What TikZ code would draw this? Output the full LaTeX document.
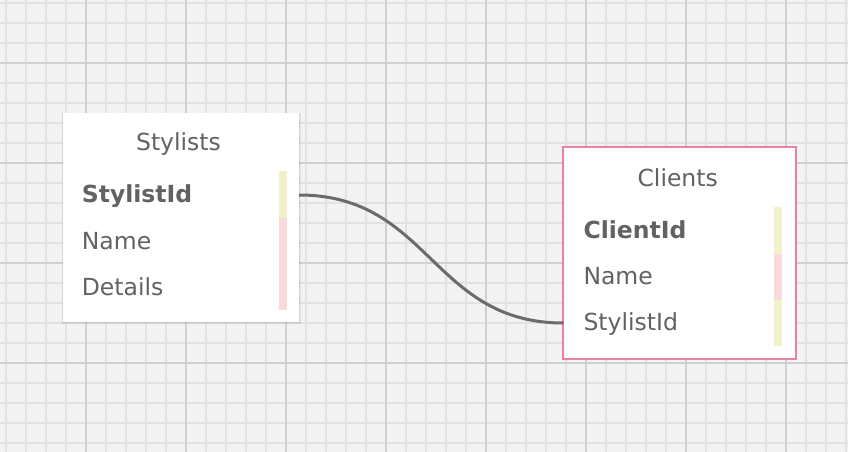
\documentclass[tikz,border=0pt]{standalone}
\usepackage{fontspec}
\setmainfont{DejaVu Sans}
\begin{document}
\begin{tikzpicture}[x=1pt,y=-1pt,
  txt/.style={text=txtgray,font=\fontsize{23.5}{27}\selectfont,inner sep=0pt,anchor=base west},
  bold/.style={font=\fontsize{23.5}{27}\selectfont\bfseries},
  ttl/.style={text=txtgray,font=\fontsize{23.5}{27}\selectfont,inner sep=0pt,anchor=base},
  tbl/.style={draw=none,fill=white,minimum width=#1,inner sep=0pt,outer sep=0pt},
]
\definecolor{bg}{HTML}{F3F3F3}
\definecolor{minorc}{HTML}{E2E2E2}
\definecolor{majorc}{HTML}{D0D0D0}
\definecolor{txtgray}{HTML}{626262}
\definecolor{keyy}{HTML}{F2F2C9}
\definecolor{keyp}{HTML}{F8DADA}
\definecolor{pinkb}{HTML}{E8829F}
\definecolor{linkc}{HTML}{6B6B6B}
\useasboundingbox (0,0) rectangle (848,452);
\fill[bg] (0,0) rectangle (848,452);
% minor grid
\foreach \x in {6,26,...,846} \draw[minorc,line width=1.3pt] (\x,0) -- (\x,452);
\foreach \y in {3,23,...,451} \draw[minorc,line width=1.3pt] (0,\y) -- (848,\y);
% major grid
\foreach \x in {86,186,...,846} \draw[majorc,line width=1.3pt] (\x,0) -- (\x,452);
\foreach \y in {63,163,263,363} \draw[majorc,line width=1.3pt] (0,\y) -- (848,\y);

% Stylists table
\fill[black,opacity=0.06] (62,113) rectangle (301,324);
\fill[black,opacity=0.06] (62,113) rectangle (300,323);
\node[tbl=236.3pt,minimum height=209pt] (stylists) at (180.85,217.2) {};
\node[ttl] (st-title) at (178.5,150) {Stylists};
\node[txt,bold] (st-id) at (81.7,202.5) {StylistId};
\node[txt] (st-name) at (81.7,249) {Name};
\node[txt] (st-det) at (81.7,295) {Details};
\fill[keyy] (279,171) rectangle (287,217.7);
\fill[keyp] (279,217.7) rectangle (287,310);

% Clients table
\node[tbl=232.4pt,minimum height=211.7pt,draw=pinkb,line width=2pt] (clients) at (679.5,253.2) {};
\node[ttl] (cl-title) at (677.7,186) {Clients};
\node[txt,bold] (cl-id) at (583.3,238) {ClientId};
\node[txt] (cl-name) at (583.3,284.5) {Name};
\node[txt] (cl-sid) at (583.3,330.5) {StylistId};
\fill[keyy] (774,206.7) rectangle (782,253.7);
\fill[keyp] (774,253.7) rectangle (782,300);
\fill[keyy] (774,300) rectangle (782,346);

% connector
\coordinate (a) at (stylists.east |- 0,195);
\coordinate (b) at (clients.west |- 0,323);
\draw[linkc,line width=3pt] (a) .. controls (430,195) and (432,323) .. (b);
\end{tikzpicture}
\end{document}
